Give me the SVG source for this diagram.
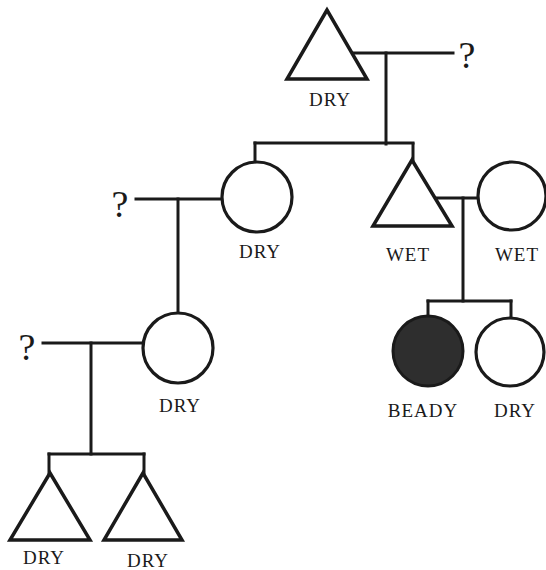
<svg xmlns="http://www.w3.org/2000/svg" width="546" height="570" viewBox="0 0 546 570">
<style>
.ln{fill:none;stroke:#1a1a1a;stroke-width:3;stroke-linecap:square}
.tri{fill:#fff;stroke:#1a1a1a;stroke-width:3.5;stroke-linejoin:miter}
.cir{fill:#fff;stroke:#1a1a1a;stroke-width:3.2}
.fill{fill:#2e2e2e;stroke:#1a1a1a;stroke-width:3}
.lbl{font-family:"Liberation Serif","Times New Roman",serif;font-size:19px;letter-spacing:1px;fill:#1a1a1a;text-anchor:middle}
.q{font-family:"Liberation Serif","Times New Roman",serif;font-size:38px;fill:#1a1a1a;text-anchor:middle}
</style>
<rect width="546" height="570" fill="#fff"/>
<g id="connectors">
<path class="ln" d="M353 53 H453"/>
<path class="ln" d="M386 53 V144"/>
<path class="ln" d="M255 143 H413"/>
<path class="ln" d="M255 143 V162"/>
<path class="ln" d="M413 144 V160"/>
<path class="ln" d="M136 199 H222"/>
<path class="ln" d="M178 199 V313"/>
<path class="ln" d="M437 198 H480"/>
<path class="ln" d="M463 198 V301"/>
<path class="ln" d="M428 301 H511"/>
<path class="ln" d="M428 301 V315"/>
<path class="ln" d="M511 301 V317"/>
<path class="ln" d="M43 343 H143"/>
<path class="ln" d="M91 343 V454"/>
<path class="ln" d="M49 454 H144"/>
<path class="ln" d="M49 454 V473"/>
<path class="ln" d="M144 454 V473"/>
</g>
<g id="q1"><text class="q" x="467" y="68">?</text></g>
<g id="q2"><text class="q" x="120" y="217">?</text></g>
<g id="q3"><text class="q" x="27" y="360">?</text></g>
<g id="grandfather"><polygon class="tri" points="327,10 287,79 367,79"/><text class="lbl" x="330" y="106">DRY</text></g>
<g id="mother1"><circle class="cir" cx="257" cy="197" r="35"/><text class="lbl" x="260" y="258">DRY</text></g>
<g id="son-wet"><polygon class="tri" points="412,160 373,226 452,226"/><text class="lbl" x="408" y="261">WET</text></g>
<g id="wife-wet"><circle class="cir" cx="512" cy="196" r="34"/><text class="lbl" x="517" y="261">WET</text></g>
<g id="mother2"><circle class="cir" cx="178" cy="348" r="35"/><text class="lbl" x="180" y="412">DRY</text></g>
<g id="beady"><circle class="fill" cx="428" cy="351" r="35"/><text class="lbl" x="423" y="417">BEADY</text></g>
<g id="daughter-dry"><circle class="cir" cx="510" cy="352" r="34"/><text class="lbl" x="515" y="417">DRY</text></g>
<g id="son1"><polygon class="tri" points="50,473 10,540 90,540"/><text class="lbl" x="44" y="564">DRY</text></g>
<g id="son2"><polygon class="tri" points="143,473 104,540 182,540"/><text class="lbl" x="148" y="567">DRY</text></g>
</svg>
